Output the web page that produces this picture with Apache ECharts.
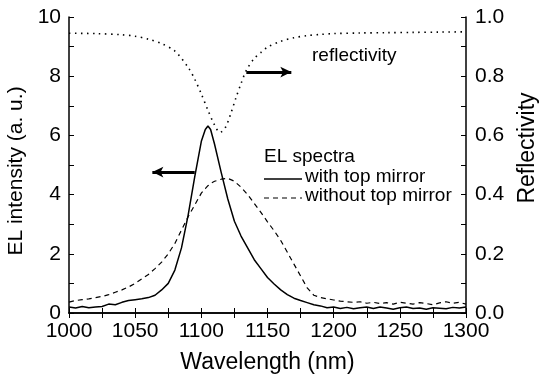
<!DOCTYPE html>
<html>
<head>
<meta charset="utf-8">
<script src="https://cdn.jsdelivr.net/npm/echarts@6/dist/echarts.min.js"></script>
<style>
html,body{margin:0;padding:0;background:#fff;}
#c{width:539px;height:381px;}
</style>
</head>
<body>
<div id="c"></div>
<script>
// Wavelength grid (nm) for EL spectra
var wl = [1000,1005,1010,1015,1020,1025,1030,1035,1040,1045,1050,1055,1060,1065,1070,1075,1080,1085,1090,1095,1100,1103,1105,1107,1110,1115,1120,1125,1130,1135,1140,1145,1150,1155,1160,1165,1170,1175,1180,1185,1190,1195,1200,1205,1210,1215,1220,1225,1230,1235,1240,1245,1250,1255,1260,1265,1270,1275,1280,1285,1290,1295,1300];
// EL intensity with top mirror (solid)
var withMirror = [0.20,0.17,0.22,0.18,0.20,0.22,0.30,0.28,0.36,0.42,0.45,0.48,0.52,0.60,0.78,1.00,1.45,2.20,3.30,4.60,5.80,6.20,6.32,6.20,5.70,4.75,3.85,3.10,2.60,2.20,1.80,1.50,1.20,0.98,0.78,0.62,0.50,0.42,0.35,0.28,0.24,0.18,0.20,0.15,0.19,0.14,0.18,0.20,0.15,0.20,0.17,0.13,0.18,0.20,0.15,0.17,0.13,0.18,0.16,0.14,0.19,0.17,0.20];
// EL intensity without top mirror (dashed)
var withoutMirror = [0.37,0.42,0.45,0.48,0.52,0.56,0.62,0.70,0.78,0.88,1.00,1.15,1.30,1.50,1.72,2.00,2.35,2.80,3.25,3.65,4.05,4.20,4.30,4.38,4.45,4.52,4.55,4.45,4.25,4.00,3.70,3.40,3.08,2.78,2.45,2.05,1.65,1.25,0.85,0.60,0.52,0.48,0.44,0.40,0.38,0.36,0.38,0.33,0.36,0.32,0.35,0.30,0.36,0.33,0.30,0.35,0.32,0.28,0.34,0.38,0.33,0.36,0.30];
// Reflectivity (dotted, right axis)
var reflWl = [1000,1020,1040,1050,1060,1070,1080,1090,1095,1100,1105,1110,1114,1118,1122,1126,1130,1134,1140,1145,1150,1160,1170,1180,1190,1200,1220,1240,1260,1280,1300];
var reflectivity = [0.945,0.944,0.940,0.935,0.925,0.910,0.885,0.830,0.790,0.740,0.685,0.635,0.610,0.625,0.670,0.725,0.775,0.820,0.860,0.880,0.898,0.918,0.930,0.937,0.941,0.944,0.946,0.947,0.948,0.949,0.950];
// Annotation arrows (data coordinates on left axis)
var leftArrow = [[1095,4.76],[1063,4.76]];
var rightArrow = [[1134,8.14],[1168,8.14]];
// Legend entries
var legendTitle = 'EL spectra';
var legendNames = ['with top mirror','without top mirror'];

var FONT = 'Liberation Sans, Arial, Helvetica, sans-serif';
function pairs(x,y){return x.map(function(v,i){return [v,y[i]];});}

var chart = echarts.init(document.getElementById('c'), null, {renderer:'canvas'});
var axisLine = {show:true, lineStyle:{color:'#000', width:1.5}};
var tickIn = {show:true, inside:true, length:5, lineStyle:{color:'#000', width:1}};
var minor = {show:true, splitNumber:2, length:5, lineStyle:{color:'#000', width:1}};
chart.setOption({
  animation:false,
  backgroundColor:'#fff',
  textStyle:{fontFamily:FONT},
  grid:{left:69, right:73, top:17, bottom:68, containLabel:false, outerBoundsMode:'none'},
  xAxis:[{
    type:'value', min:1000, max:1300, interval:50, position:'bottom',
    name:'Wavelength (nm)', nameLocation:'middle', nameGap:38,
    nameTextStyle:{fontFamily:FONT, fontSize:23, color:'#000'},
    axisLine:axisLine, axisTick:tickIn, minorTick:minor,
    axisLabel:{fontFamily:FONT, fontSize:21, color:'#000', margin:8,
      formatter:function(v){return String(v);}},
    splitLine:{show:false}
  },{
    type:'value', min:1000, max:1300, interval:50, position:'top',
    axisLine:axisLine, axisTick:tickIn, minorTick:minor,
    axisLabel:{show:false}, splitLine:{show:false}
  }],
  yAxis:[{
    type:'value', min:0, max:10, interval:2, position:'left',
    name:'EL intensity (a. u.)', nameLocation:'middle', nameGap:27, nameRotate:90,
    nameTextStyle:{fontFamily:FONT, fontSize:21, color:'#000', padding:[0,12,0,0]},
    axisLine:axisLine, axisTick:tickIn, minorTick:minor,
    axisLabel:{fontFamily:FONT, fontSize:21, color:'#000', margin:8},
    splitLine:{show:false}
  },{
    type:'value', min:0, max:1, interval:0.2, position:'right',
    name:'Reflectivity', nameLocation:'middle', nameGap:50, nameRotate:90,
    nameTextStyle:{fontFamily:FONT, fontSize:23, color:'#000', padding:[0,0,0,34]},
    axisLine:axisLine, axisTick:tickIn, minorTick:minor,
    axisLabel:{fontFamily:FONT, fontSize:21, color:'#000', margin:9,
      formatter:function(v){return v.toFixed(1);}},
    splitLine:{show:false}
  }],
  graphic:[
    {type:'text', left:264, top:147, style:{text:legendTitle, font:'19px '+FONT, fill:'#000'}},
    {type:'line', shape:{x1:264, y1:179, x2:302, y2:179}, style:{stroke:'#000', lineWidth:1.5}},
    {type:'text', left:305, top:167, style:{text:legendNames[0], font:'19px '+FONT, fill:'#000'}},
    {type:'line', shape:{x1:264, y1:198, x2:302, y2:198}, style:{stroke:'#000', lineWidth:1.2, lineDash:[5,4]}},
    {type:'text', left:305, top:186, style:{text:legendNames[1], font:'19px '+FONT, fill:'#000'}},
    {type:'text', left:312, top:46, style:{text:'reflectivity', font:'19px '+FONT, fill:'#000'}}
  ],
  series:[{
    name:legendNames[0], type:'line', xAxisIndex:0, yAxisIndex:0,
    data:pairs(wl,withMirror), showSymbol:false, symbol:'none',
    lineStyle:{color:'#000', width:1.5, type:'solid'},
    itemStyle:{color:'#000'},
    markLine:{
      silent:true, symbol:['none','arrow'], symbolSize:[8,11],
      label:{show:false},
      lineStyle:{color:'#000', width:3, type:'solid'},
      data:[
        [{coord:leftArrow[0]},{coord:leftArrow[1]}],
        [{coord:rightArrow[0]},{coord:rightArrow[1]}]
      ]
    }
  },{
    name:legendNames[1], type:'line', xAxisIndex:0, yAxisIndex:0,
    data:pairs(wl,withoutMirror), showSymbol:false, symbol:'none',
    lineStyle:{color:'#000', width:1.2, type:[5,4]},
    itemStyle:{color:'#000'}
  },{
    name:'reflectivity', type:'line', xAxisIndex:0, yAxisIndex:1,
    data:pairs(reflWl,reflectivity), showSymbol:false, symbol:'none', smooth:0.3,
    lineStyle:{color:'#000', width:1.6, type:[1.5,4.5]},
    itemStyle:{color:'#000'}
  }]
});
</script>
</body>
</html>
